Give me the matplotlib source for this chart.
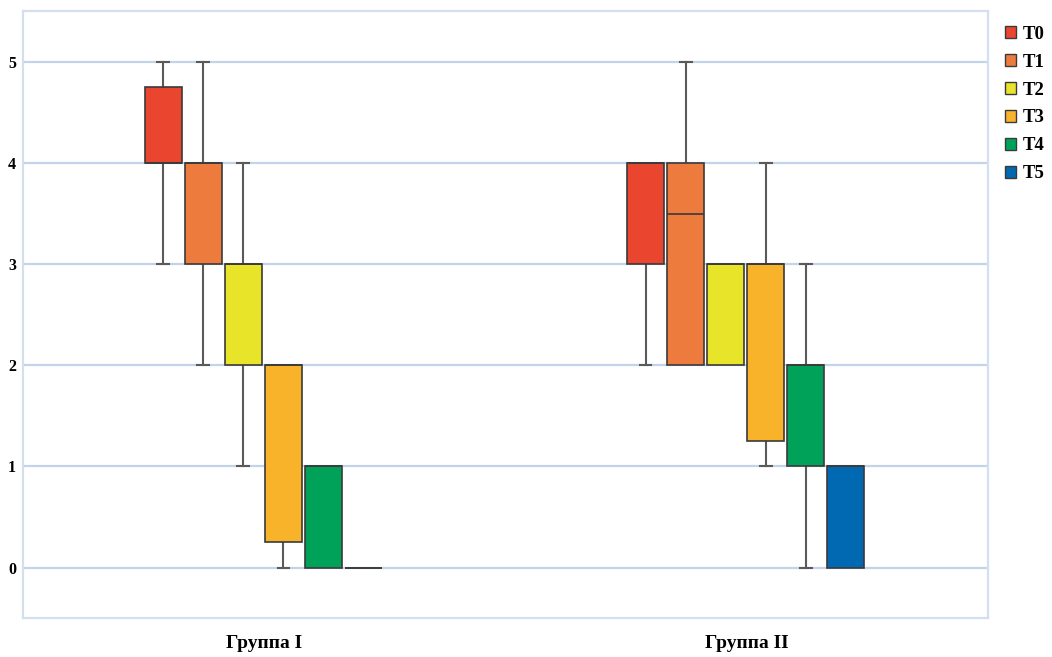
import matplotlib
matplotlib.use("Agg")
import matplotlib.pyplot as plt
from matplotlib.patches import Patch

# Box-plot summaries per group (Группа I, Группа II) for stages T0..T5
groups = ["Группа I", "Группа II"]
series = ["T0", "T1", "T2", "T3", "T4", "T5"]
colors = ["#EA452F", "#EE7B3E", "#E8E42A", "#F9B32B", "#00A25A", "#0069B1"]

q1 = {
    "Группа I":  [4.0, 3.0, 2.0, 0.25, 0.0, 0.0],
    "Группа II": [3.0, 2.0, 2.0, 1.25, 1.0, 0.0],
}
q3 = {
    "Группа I":  [4.75, 4.0, 3.0, 2.0, 1.0, 0.0],
    "Группа II": [4.0, 4.0, 3.0, 3.0, 2.0, 1.0],
}
med = {
    "Группа I":  [4.0, 4.0, 3.0, 2.0, 1.0, 0.0],
    "Группа II": [4.0, 3.5, 3.0, 3.0, 2.0, 1.0],
}
whislo = {
    "Группа I":  [3.0, 2.0, 1.0, 0.0, 0.0, 0.0],
    "Группа II": [2.0, 2.0, 2.0, 1.0, 0.0, 0.0],
}
whishi = {
    "Группа I":  [5.0, 5.0, 4.0, 2.0, 1.0, 0.0],
    "Группа II": [4.0, 5.0, 3.0, 4.0, 3.0, 1.0],
}

yticks = [0, 1, 2, 3, 4, 5]

plt.rcParams["font.family"] = ["Liberation Serif", "DejaVu Serif"]
plt.rcParams["font.weight"] = "bold"

fig = plt.figure(figsize=(10.52, 6.57), dpi=100)
ax = fig.add_axes([0.022, 0.059, 0.917, 0.924])

grid_c = "#C3D3EA"
box_w = 0.076
step = 0.083
n = len(series)

for gi, g in enumerate(groups):
    for si, s in enumerate(series):
        pos = gi + (si - (n - 1) / 2) * step - 0.002
        st = dict(med=med[g][si], q1=q1[g][si], q3=q3[g][si],
                  whislo=whislo[g][si], whishi=whishi[g][si], fliers=[])
        art = ax.bxp([st], positions=[pos], widths=box_w, patch_artist=True,
                     showfliers=False, manage_ticks=False,
                     boxprops=dict(facecolor=colors[si], edgecolor="#3A3A3A", linewidth=1.2),
                     medianprops=dict(color="#3A3A3A", linewidth=1.2),
                     whiskerprops=dict(color="#5A5A5A", linewidth=1.5),
                     capprops=dict(color="#5A5A5A", linewidth=1.5),
                     capwidths=box_w * 0.32)
        art["boxes"][0].set_zorder(3)
        art["medians"][0].set_zorder(4)
        # hide whiskers/caps that coincide with box edges
        if whislo[g][si] == q1[g][si]:
            art["whiskers"][0].set_visible(False)
            art["caps"][0].set_visible(False)
        if whishi[g][si] == q3[g][si]:
            art["whiskers"][1].set_visible(False)
            art["caps"][1].set_visible(False)

ax.set_xlim(-0.5, 1.5)
ax.set_ylim(-0.5, 5.5)
ax.set_yticks(yticks)
ax.set_yticklabels([str(t) for t in yticks], fontsize=11.5, fontweight="bold")
ax.set_xticks([0, 1])
ax.set_xticklabels(groups, fontsize=14, fontweight="bold")
ax.tick_params(axis="both", length=0)
ax.tick_params(axis="y", pad=5)
ax.tick_params(axis="x", pad=12)
ax.yaxis.grid(True, color=grid_c, linewidth=1.6, zorder=0)
ax.set_axisbelow(True)
for sp in ax.spines.values():
    sp.set_color("#D3DFEE")
    sp.set_linewidth(1.6)

handles = [Patch(facecolor=c, edgecolor="#3A3A3A", linewidth=1.0, label=s)
           for c, s in zip(colors, series)]
fig.legend(handles=handles, loc="upper left", bbox_to_anchor=(0.946, 0.975),
           frameon=False, prop=dict(size=13.5, weight="bold"),
           handlelength=0.6, handleheight=0.6, handletextpad=0.35,
           labelspacing=0.58, borderpad=0.0)

fig.savefig("out.png", dpi=100)
